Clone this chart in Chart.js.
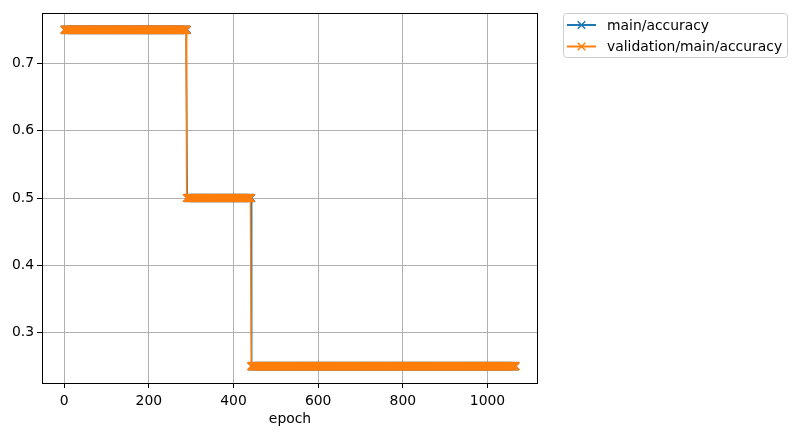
<!DOCTYPE html>
<html>
<head>
<meta charset="utf-8">
<script src="https://cdn.jsdelivr.net/npm/chart.js@4.4.1/dist/chart.umd.min.js"></script>
<style>
  html, body { margin: 0; padding: 0; background: #fff; }
  #wrap { width: 798px; height: 436px; }
</style>
</head>
<body>
<div id="wrap"><canvas id="accChart" width="798" height="436"></canvas></div>
<script>
// accuracy is flat, then drops at two epochs
const firstEpoch = 1;
const lastEpoch = 1066;
const levels = [0.75, 0.5, 0.25];
const valDropEpochs = [290, 442];   // first epoch at the next level
const mainDropEpochs = [291, 443];
const xTicks = [0, 200, 400, 600, 800, 1000];
const yTicks = [0.3, 0.4, 0.5, 0.6, 0.7];
const seriesNames = ['main/accuracy', 'validation/main/accuracy'];
const seriesColors = ['#1f77b4', '#ff7f0e'];

function buildSeries(drops) {
  const pts = [];
  for (let e = firstEpoch; e <= lastEpoch; e++) {
    let lvl = 0;
    drops.forEach(d => { if (e >= d) lvl++; });
    pts.push({x: e, y: levels[lvl]});
  }
  return pts;
}

const fontFamily = '"DejaVu Sans", sans-serif';
const fontSize = 13.9;

function drawCross(ctx, x, y, r) {
  ctx.beginPath();
  ctx.moveTo(x - r, y - r); ctx.lineTo(x + r, y + r);
  ctx.moveTo(x - r, y + r); ctx.lineTo(x + r, y - r);
  ctx.stroke();
}

// frame round the plot plus the outside legend
const framePlugin = {
  id: 'frame',
  afterDraw(chart) {
    const {ctx, chartArea: a} = chart;
    ctx.save();
    ctx.strokeStyle = '#000';
    ctx.lineWidth = 1;
    ctx.strokeRect(Math.round(a.left) + 0.5, Math.round(a.top) + 0.5,
      Math.round(a.right - a.left) - 1, Math.round(a.bottom - a.top));

    // legend box
    const bx = 563.5, by = 13.5, bw = 224, bh = 44, r = 3;
    ctx.beginPath();
    ctx.moveTo(bx + r, by);
    ctx.arcTo(bx + bw, by, bx + bw, by + bh, r);
    ctx.arcTo(bx + bw, by + bh, bx, by + bh, r);
    ctx.arcTo(bx, by + bh, bx, by, r);
    ctx.arcTo(bx, by, bx + bw, by, r);
    ctx.closePath();
    ctx.fillStyle = 'rgba(255,255,255,0.8)';
    ctx.fill();
    ctx.strokeStyle = '#cccccc';
    ctx.stroke();

    ctx.font = fontSize + 'px ' + fontFamily;
    ctx.textBaseline = 'middle';
    ctx.textAlign = 'left';
    seriesNames.forEach((name, i) => {
      const y = 25 + i * 21.5;
      ctx.strokeStyle = seriesColors[i];
      ctx.lineWidth = 2;
      ctx.beginPath();
      ctx.moveTo(567, y); ctx.lineTo(596, y);
      ctx.stroke();
      ctx.lineWidth = 1.5;
      drawCross(ctx, 581.5, y, 3.8);
      ctx.fillStyle = '#000';
      ctx.fillText(name, 607, y + 1);
    });
    ctx.restore();
  }
};

const ctx = document.getElementById('accChart').getContext('2d');
new Chart(ctx, {
  type: 'line',
  data: {
    datasets: seriesNames.map((name, i) => ({
      label: name,
      data: buildSeries(i === 0 ? mainDropEpochs : valDropEpochs),
      order: i === 0 ? 1 : 0,   // validation drawn on top, like the original
      borderColor: seriesColors[i],
      backgroundColor: seriesColors[i],
      borderWidth: 1.5,
      pointStyle: 'crossRot',
      pointRadius: 5.4,
      pointBorderWidth: 1.5,
      pointBorderColor: seriesColors[i],
      tension: 0,
      fill: false
    }))
  },
  options: {
    responsive: false,
    animation: false,
    events: [],
    layout: { padding: { top: 13, right: 260, left: 0, bottom: 0 } },
    plugins: { legend: { display: false }, tooltip: { enabled: false } },
    scales: {
      x: {
        type: 'linear',
        min: -52.25,
        max: 1119.25,
        afterBuildTicks: s => { s.ticks = xTicks.map(v => ({value: v})); },
        afterFit: s => { s.height = 53; },
        grid: { color: '#b0b0b0', lineWidth: 1, tickColor: '#000', tickLength: 5, drawTicks: true },
        border: { display: false },
        ticks: {
          color: '#000', font: { family: fontFamily, size: fontSize }, padding: 5,
          maxRotation: 0, autoSkip: false,
          callback: v => String(v)
        },
        title: {
          display: true, text: 'epoch', color: '#000',
          font: { family: fontFamily, size: fontSize }, padding: { top: 0, bottom: 8 }
        }
      },
      y: {
        type: 'linear',
        min: 0.225,
        max: 0.775,
        afterBuildTicks: s => { s.ticks = yTicks.map(v => ({value: v})); },
        afterFit: s => { s.width = 42; },
        grid: { color: '#b0b0b0', lineWidth: 1, tickColor: '#000', tickLength: 5, drawTicks: true },
        border: { display: false },
        ticks: {
          color: '#000', font: { family: fontFamily, size: fontSize }, padding: 3,
          autoSkip: false,
          callback: v => v.toFixed(1)
        }
      }
    }
  },
  plugins: [framePlugin]
});
</script>
</body>
</html>
